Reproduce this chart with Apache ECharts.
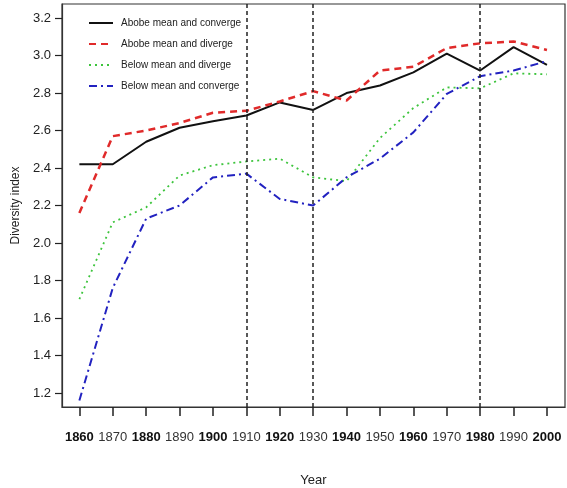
<!DOCTYPE html>
<html>
<head>
<meta charset="utf-8">
<script src="https://cdn.jsdelivr.net/npm/echarts@6/dist/echarts.min.js"></script>
<style>
  html, body { margin: 0; padding: 0; background: #fff; }
  #chart { width: 567px; height: 488px; }
</style>
</head>
<body>
<div id="chart"></div>
<script>
let years = [1860, 1870, 1880, 1890, 1900, 1910, 1920, 1930, 1940, 1950, 1960, 1970, 1980, 1990, 2000];
let aboveConverge = [2.42, 2.42, 2.54, 2.615, 2.65, 2.68, 2.75, 2.71, 2.80, 2.84, 2.91, 3.01, 2.92, 3.045, 2.95];
let aboveDiverge = [2.16, 2.57, 2.60, 2.64, 2.695, 2.705, 2.755, 2.81, 2.76, 2.92, 2.94, 3.04, 3.065, 3.075, 3.03];
let belowDiverge = [1.70, 2.11, 2.19, 2.36, 2.415, 2.435, 2.45, 2.35, 2.33, 2.56, 2.72, 2.83, 2.825, 2.905, 2.90];
let belowConverge = [1.16, 1.76, 2.13, 2.20, 2.35, 2.37, 2.235, 2.20, 2.35, 2.45, 2.59, 2.795, 2.89, 2.92, 2.97];
let yTicks = [1.2, 1.4, 1.6, 1.8, 2.0, 2.2, 2.4, 2.6, 2.8, 3.0, 3.2];
let markYears = [1910, 1930, 1980];

let font = "'Liberation Sans', Arial, sans-serif";

function pairs(vals) {
  return years.map(function (y, i) { return [y, vals[i]]; });
}

let chart = echarts.init(document.getElementById("chart"));

chart.setOption({
  animation: false,
  grid: {
    left: 62, right: 2, top: 4, bottom: 81,
    show: true, borderColor: "#333", borderWidth: 1.2,
    outerBoundsMode: "none"
  },
  legend: {
    orient: "vertical",
    left: 83,
    top: 13,
    itemWidth: 24,
    itemHeight: 8,
    itemGap: 11,
    itemStyle: { opacity: 0 },
    textStyle: { fontFamily: font, fontSize: 10, color: "#222", padding: [0, 0, 0, 3] },
    data: ["Abobe mean and converge", "Abobe mean and diverge", "Below mean and diverge", "Below mean and converge"]
  },
  xAxis: {
    type: "value",
    min: 1854.8,
    max: 2005.4,
    name: "Year",
    nameLocation: "middle",
    nameGap: 67,
    nameTextStyle: { fontFamily: font, fontSize: 13, color: "#222" },
    splitLine: { show: false },
    axisLine: { show: true, lineStyle: { color: "#333", width: 1.2 } },
    axisTick: { show: true, customValues: years, length: 9, lineStyle: { color: "#222", width: 1.5 } },
    axisLabel: {
      customValues: years,
      margin: 24,
      fontFamily: font,
      fontSize: 13,
      color: "#222",
      formatter: function (v) {
        let i = years.indexOf(v);
        return i % 2 === 0 ? "{b|" + v + "}" : "{n|" + v + "}";
      },
      rich: {
        b: { fontFamily: font, fontSize: 13, fontWeight: "bold", color: "#111" },
        n: { fontFamily: font, fontSize: 13, color: "#333" }
      }
    }
  },
  yAxis: {
    type: "value",
    min: 1.125,
    max: 3.275,
    name: "Diversity index",
    nameLocation: "middle",
    nameGap: 40,
    nameTextStyle: { fontFamily: font, fontSize: 12, color: "#222" },
    splitLine: { show: false },
    axisLine: { show: true, lineStyle: { color: "#333", width: 1.2 } },
    axisTick: { show: true, customValues: yTicks, length: 7, lineStyle: { color: "#222", width: 1.2 } },
    axisLabel: {
      customValues: yTicks,
      margin: 11,
      fontFamily: font,
      fontSize: 13,
      color: "#222",
      formatter: function (v) { return v.toFixed(1); }
    }
  },
  series: [
    {
      name: "Abobe mean and converge",
      type: "line",
      data: pairs(aboveConverge),
      symbol: "none",
      color: "#111",
      lineStyle: { color: "#111", width: 2 },
      markLine: {
        silent: true,
        symbol: "none",
        label: { show: false },
        lineStyle: { color: "#222", type: [4, 3], width: 1.5 },
        data: markYears.map(function (y) { return { xAxis: y }; })
      }
    },
    {
      name: "Abobe mean and diverge",
      type: "line",
      data: pairs(aboveDiverge),
      symbol: "none",
      color: "#e02a2a",
      lineStyle: { color: "#e02a2a", width: 2.5, type: [7, 5] }
    },
    {
      name: "Below mean and diverge",
      type: "line",
      data: pairs(belowDiverge),
      symbol: "none",
      color: "#3cc43c",
      lineStyle: { color: "#3cc43c", width: 1.8, type: [2, 4] }
    },
    {
      name: "Below mean and converge",
      type: "line",
      data: pairs(belowConverge),
      symbol: "none",
      color: "#2222c0",
      lineStyle: { color: "#2222c0", width: 2, type: [8, 4, 2, 4] }
    }
  ]
});
</script>
</body>
</html>
